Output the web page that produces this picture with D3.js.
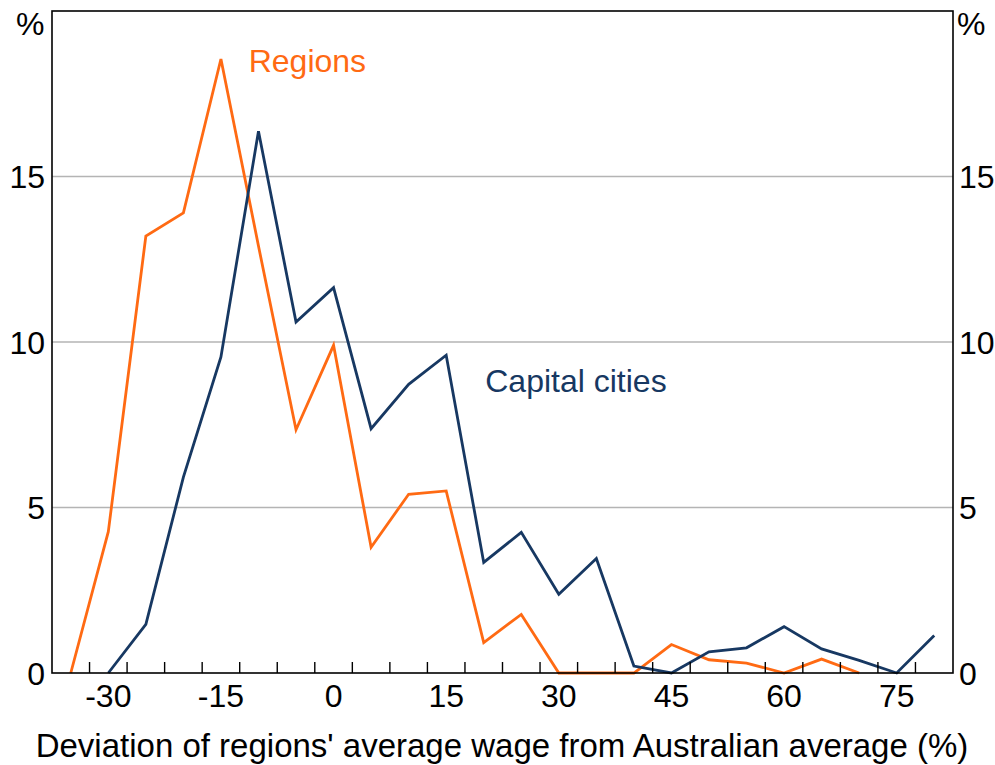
<!DOCTYPE html>
<html>
<head>
<meta charset="utf-8">
<script src="https://d3js.org/d3.v7.min.js"></script>
<style>
  body { margin: 0; background: #fff; }
  text { font-family: "Liberation Sans", Arial, sans-serif; }
</style>
</head>
<body>
<svg width="995" height="765"></svg>
<script>
// bins of deviation from the Australian average wage (%)
const regionBins = [-35, -30, -25, -20, -15, -10, -5, 0, 5, 10, 15, 20, 25, 30, 35, 40, 45, 50, 55, 60, 65, 70];
const regionValues = [0, 4.27, 13.2, 13.9, 18.55, 12.9, 7.35, 9.9, 3.8, 5.4, 5.5, 0.92, 1.77, 0, 0, 0, 0.86, 0.4, 0.3, 0, 0.42, 0];
const capitalBins = [-30, -25, -20, -15, -10, -5, 0, 5, 10, 15, 20, 25, 30, 35, 40, 45, 50, 55, 60, 65, 70, 75, 80];
const capitalValues = [0, 1.47, 5.92, 9.55, 16.37, 10.6, 11.64, 7.38, 8.72, 9.6, 3.34, 4.25, 2.38, 3.46, 0.21, 0, 0.64, 0.76, 1.4, 0.73, 0.38, 0, 1.13];
const xTickLabels = [-30, -15, 0, 15, 30, 45, 60, 75];
const xBinEdges = [-32.5, -27.5, -22.5, -17.5, -12.5, -7.5, -2.5, 2.5, 7.5, 12.5, 17.5, 22.5, 27.5, 32.5, 37.5, 42.5, 47.5, 52.5, 57.5, 62.5, 67.5, 72.5, 77.5];
const yTicks = [0, 5, 10, 15];

const orange = '#ff6a13';
const navy = '#173862';

const margin = {top: 11, right: 42, bottom: 92, left: 52};
const width = 995 - margin.left - margin.right;
const height = 765 - margin.top - margin.bottom;

const x = d3.scaleLinear().domain([-37.5, 82.5]).range([0, width]);
const y = d3.scaleLinear().domain([0, 20]).range([height, 0]);

const svg = d3.select('svg');
const chart = svg.append('g').attr('transform', 'translate(' + margin.left + ',' + margin.top + ')');

// grid lines
chart.selectAll('.grid')
  .data(yTicks.filter(d => d > 0)).enter()
  .append('line')
  .attr('x1', 0).attr('x2', width)
  .attr('y1', d => y(d)).attr('y2', d => y(d))
  .attr('stroke', '#b4b4b4').attr('stroke-width', 1.3);

// lines
const line = d3.line().x(d => x(d[0])).y(d => y(d[1]));
chart.append('path')
  .datum(d3.zip(regionBins, regionValues))
  .attr('fill', 'none').attr('stroke', orange).attr('stroke-width', 2.8)
  .attr('d', line);
chart.append('path')
  .datum(d3.zip(capitalBins, capitalValues))
  .attr('fill', 'none').attr('stroke', navy).attr('stroke-width', 2.8)
  .attr('d', line);

// inward ticks on the x axis at bin edges
chart.selectAll('.xtick')
  .data(xBinEdges).enter()
  .append('line')
  .attr('x1', d => x(d)).attr('x2', d => x(d))
  .attr('y1', height).attr('y2', height - 11)
  .attr('stroke', '#000').attr('stroke-width', 1.4);

// frame
chart.append('rect')
  .attr('width', width).attr('height', height)
  .attr('fill', 'none').attr('stroke', '#000').attr('stroke-width', 1.6);

// x tick labels
chart.selectAll('.xlab')
  .data(xTickLabels).enter()
  .append('text')
  .attr('x', d => x(d)).attr('y', height + 34)
  .attr('text-anchor', 'middle')
  .attr('font-size', 32).attr('fill', '#000')
  .text(d => d);

// y tick labels both sides
chart.selectAll('.ylabL')
  .data(yTicks).enter()
  .append('text')
  .attr('x', -7).attr('y', d => y(d)).attr('dy', '0.36em')
  .attr('text-anchor', 'end')
  .attr('font-size', 32).attr('fill', '#000')
  .text(d => d);
chart.selectAll('.ylabR')
  .data(yTicks).enter()
  .append('text')
  .attr('x', width + 6).attr('y', d => y(d)).attr('dy', '0.36em')
  .attr('text-anchor', 'start')
  .attr('font-size', 32).attr('fill', '#000')
  .text(d => d);

svg.append('text').attr('x', 16).attr('y', 35).attr('font-size', 32).text('%');
svg.append('text').attr('x', 957).attr('y', 35).attr('font-size', 32).text('%');

// series labels
chart.append('text')
  .attr('x', x(-11.3)).attr('y', y(18.15))
  .attr('font-size', 32).attr('fill', orange)
  .text('Regions');
chart.append('text')
  .attr('x', x(20.2)).attr('y', y(8.5))
  .attr('font-size', 32).attr('fill', navy)
  .text('Capital cities');

// x axis title
svg.append('text')
  .attr('x', 502).attr('y', 757)
  .attr('text-anchor', 'middle')
  .attr('font-size', 33).attr('fill', '#000')
  .text("Deviation of regions' average wage from Australian average (%)");
</script>
</body>
</html>
